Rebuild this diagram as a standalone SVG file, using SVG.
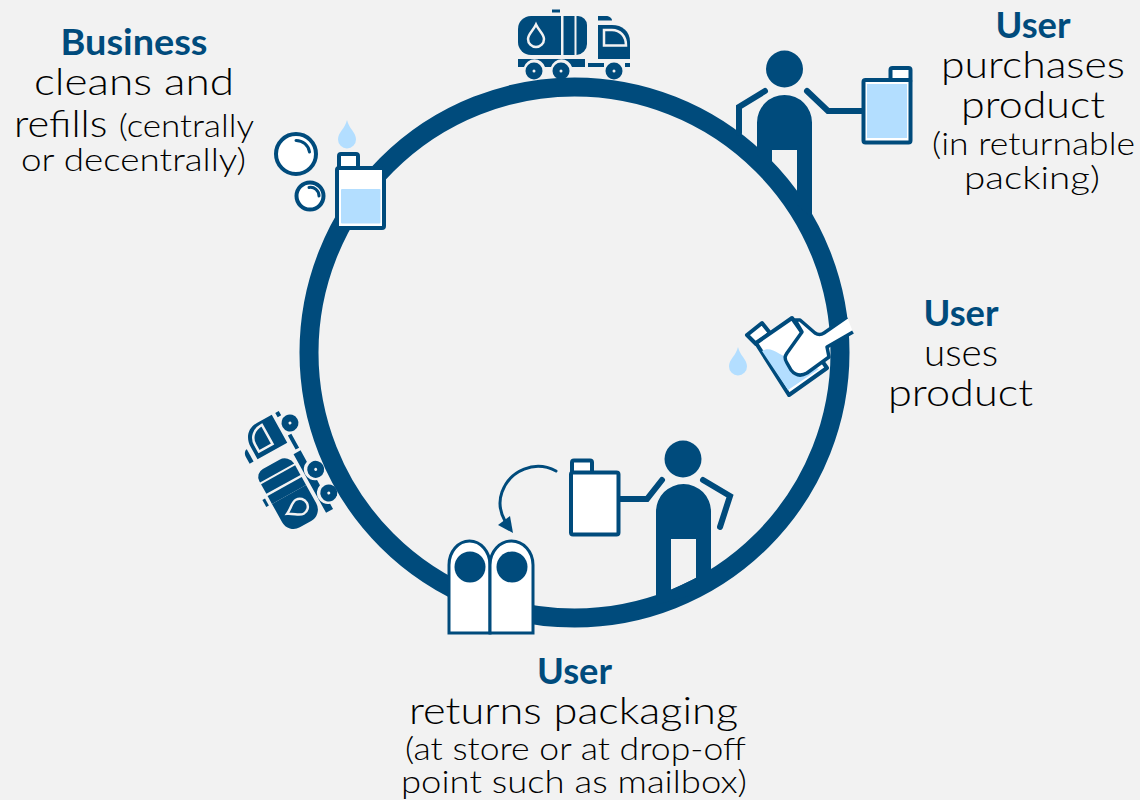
<svg xmlns="http://www.w3.org/2000/svg" width="1140" height="800" viewBox="0 0 1140 800">
<style>
.t{font-family:"Lato","Noto Sans",sans-serif;font-weight:300;fill:#000;text-anchor:middle;font-size:38px}
.h{font-weight:700;fill:#004B7C;font-size:36px}
.s{font-size:32px}
.b{fill:#004B7C}
.st{fill:none;stroke:#004B7C;stroke-linecap:round;stroke-linejoin:miter}
.jug{fill:#fff;stroke:#004B7C;stroke-width:4;stroke-linejoin:round}
.liq{fill:#B3DEFF}
</style>
<defs>
<g id="truck">
<path class="b" d="M531 16H552V55H531A13 13 0 0 1 518 42V29A13 13 0 0 1 531 16Z"/>
<rect class="b" x="552" y="16" width="9" height="39"/>
<rect class="b" x="563.500" y="16" width="11" height="39"/>
<path class="b" d="M576.500 16H578A9 9 0 0 1 587 25V44A11 11 0 0 1 576.500 55Z"/>
<rect class="b" x="552" y="9.500" width="8" height="3"/>
<path d="M536 24.500C539 31 544 34 544 39A8 8 0 0 1 528 39C528 34 533 31 536 24.500Z" fill="none" stroke="#F2F2F2" stroke-width="2.500"/>
<path class="b" d="M518 59H585V67H572A11 11 0 0 0 551 67H545A11 11 0 0 0 524 67H518Z"/>
<path class="b" d="M588 63H604V67H588ZM625 63H630V67H625Z"/>
<path class="b" d="M598 25H612C622 25 630 31 630 42V59H598Z"/>
<path d="M604 30H612C620 30 626 36 626 45.500H604Z" fill="none" stroke="#F2F2F2" stroke-width="2.500"/>
<path class="b" d="M598 16H606C609 16 612 18 612 20.500H598Z"/>
<g class="b"><circle cx="534" cy="71" r="8.500"/><circle cx="561" cy="71" r="8.500"/><circle cx="614" cy="71" r="8.500"/></g>
<g fill="#F2F2F2"><circle cx="534" cy="71" r="1.500"/><circle cx="561" cy="71" r="1.500"/><circle cx="614" cy="71" r="1.500"/></g>
</g>
</defs>
<rect width="1140" height="800" fill="#F2F2F2"/>
<g id="connectors">
<circle id="cycle-ring" cx="574.500" cy="352.500" r="265.500" fill="none" stroke="#004B7C" stroke-width="19"/>
<path id="return-arrow" class="st" stroke-width="3" stroke-linecap="butt" d="M556 471C535 460 510 470 502 492C498 503 500 512 505 521"/>
<path class="b" d="M498 525L510 516L513 533Z"/>
</g>
<g id="node-truck-top"><use href="#truck"/></g>
<g id="node-truck-return"><use href="#truck" transform="translate(290 423) rotate(-119) translate(-614 -71)"/></g>
<g id="node-business">
<circle cx="296" cy="154" r="20" fill="#fff" stroke="#004B7C" stroke-width="4"/>
<path class="st" stroke-width="3" stroke-linecap="butt" d="M296 140.500A13.500 13.500 0 0 1 309.500 152"/>
<circle cx="310" cy="196" r="13.500" fill="#fff" stroke="#004B7C" stroke-width="4"/>
<path class="st" stroke-width="3" stroke-linecap="butt" d="M309 187.500A8.500 8.500 0 0 1 319 196"/>
<path class="liq" d="M347 120C349 129 356 132 356 139.500A9 9 0 0 1 338 139.500C338 132 345 129 347 120Z"/>
<rect class="jug" x="339" y="154" width="19" height="15" rx="2"/>
<rect class="jug" x="337" y="168" width="47" height="60" rx="2"/>
<rect class="liq" x="341" y="189" width="39.500" height="34.500" rx="1"/>
<text class="t h" x="134" y="55" textLength="147" lengthAdjust="spacingAndGlyphs">Business</text>
<text class="t" x="134" y="95" textLength="200" lengthAdjust="spacingAndGlyphs">cleans and</text>
<text class="t" x="134" y="137" textLength="240" lengthAdjust="spacingAndGlyphs">refills <tspan class="s">(centrally</tspan></text>
<text class="t s" x="133.500" y="171" textLength="225" lengthAdjust="spacingAndGlyphs">or decentrally)</text>
</g>
<g id="node-purchase">
<circle class="b" cx="784.500" cy="69" r="18.500"/>
<path class="b" d="M757 122.500A27.500 27.500 0 0 1 812 122.500V218L797 205V150H772V170L757 155Z"/>
<polyline class="st" stroke-width="6" points="765,91 739,107 739,133"/>
<polyline class="st" stroke-width="6" points="807,91 828,111 864,111"/>
<rect class="jug" x="890.500" y="68" width="20" height="14" rx="2"/>
<rect class="jug" x="863.500" y="80" width="47" height="62.500" rx="2"/>
<rect class="liq" x="867" y="84" width="40" height="54"/>
<text class="t h" x="1033" y="38" textLength="75" lengthAdjust="spacingAndGlyphs">User</text>
<text class="t" x="1033" y="78" textLength="184" lengthAdjust="spacingAndGlyphs">purchases</text>
<text class="t" x="1033" y="118" textLength="144" lengthAdjust="spacingAndGlyphs">product</text>
<text class="t s" x="1033.500" y="155" textLength="203" lengthAdjust="spacingAndGlyphs">(in returnable</text>
<text class="t s" x="1032" y="189" textLength="136" lengthAdjust="spacingAndGlyphs">packing)</text>
</g>
<g id="node-use">
<path class="liq" d="M738 347C740 356 747 359 747 366.500A9 9 0 0 1 729 366.500C729 359 736 356 738 347Z"/>
<path d="M747 335L762 323L770 333L756 344Z" class="jug" stroke-width="3.500"/>
<path d="M756 343L792 318L827 368L789 395Z" class="jug"/>
<path class="liq" d="M762 351C772 345 778 356 795 360L819 369L788 390Z"/>
<path d="M853 332L827 347L829 357L807 373C800 377 795 375 791 370L787 363C784 358 785 356 787 353L802 332L795 320L800 320L815 333C818 335 821 335 824 333L847 317" fill="#fff" stroke="#004B7C" stroke-width="3.500" stroke-linejoin="round"/>
<text class="t h" x="961" y="326" textLength="75" lengthAdjust="spacingAndGlyphs">User</text>
<text class="t" x="961" y="366" textLength="74" lengthAdjust="spacingAndGlyphs">uses</text>
<text class="t" x="960.500" y="406" textLength="145" lengthAdjust="spacingAndGlyphs">product</text>
</g>
<g id="node-return">
<circle class="b" cx="683" cy="459" r="18.500"/>
<path class="b" fill-rule="evenodd" d="M656 511.500A27.500 27.500 0 0 1 711 511.500V590L656 605ZM671 539V590L696 578V539Z"/>
<polyline class="st" stroke-width="6" points="703,480 730,496 720,527"/>
<polyline class="st" stroke-width="6" points="662,480 647,499 620,499"/>
<rect class="jug" x="572" y="460.500" width="20" height="14" rx="2"/>
<rect class="jug" x="571" y="472.500" width="47.500" height="62" rx="2"/>
<path d="M449 633V565A20.500 24 0 0 1 490 565V633Z" fill="#fff" stroke="#004B7C" stroke-width="3"/>
<path d="M490 633V565A21.500 24 0 0 1 533 565V633Z" fill="#fff" stroke="#004B7C" stroke-width="3"/>
<circle class="b" cx="470" cy="567" r="15.500"/>
<circle class="b" cx="512" cy="567" r="15.500"/>
<text class="t h" x="574.500" y="684" textLength="75" lengthAdjust="spacingAndGlyphs">User</text>
<text class="t" x="573.500" y="724" textLength="329" lengthAdjust="spacingAndGlyphs">returns packaging</text>
<text class="t s" x="575.500" y="760" textLength="341" lengthAdjust="spacingAndGlyphs">(at store or at drop-off</text>
<text class="t s" x="574" y="793" textLength="346" lengthAdjust="spacingAndGlyphs">point such as mailbox)</text>
</g>
</svg>
